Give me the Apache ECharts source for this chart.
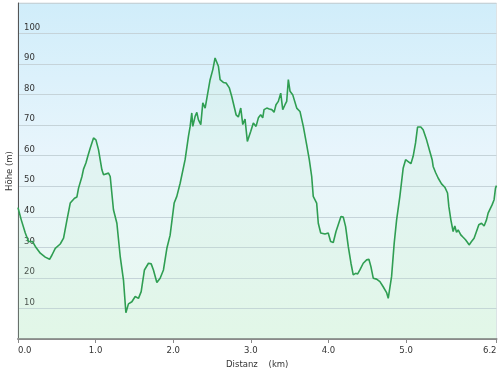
<!DOCTYPE html>
<html>
<head>
<meta charset="utf-8">
<script src="https://cdn.jsdelivr.net/npm/echarts@6/dist/echarts.min.js"></script>
<style>
html,body{margin:0;padding:0;background:#fff;}
#chart{width:500px;height:374px;}
</style>
</head>
<body>
<div id="chart"></div>
<script>
// Distance along route (km)
var distanceKm = [0.000,0.042,0.094,0.136,0.188,0.223,0.287,0.351,0.407,0.438,0.480,0.544,0.587,0.631,0.673,0.728,0.759,0.780,0.824,0.844,0.875,0.901,0.931,0.973,1.004,1.037,1.081,1.102,1.166,1.188,1.230,1.274,1.317,1.359,1.390,1.423,1.467,1.510,1.552,1.587,1.629,1.681,1.716,1.745,1.789,1.831,1.874,1.918,1.960,2.012,2.046,2.089,2.153,2.196,2.218,2.239,2.252,2.282,2.304,2.324,2.355,2.381,2.411,2.432,2.475,2.510,2.539,2.561,2.582,2.604,2.646,2.681,2.723,2.754,2.784,2.810,2.839,2.870,2.896,2.925,2.955,2.977,2.999,3.032,3.067,3.097,3.127,3.153,3.170,3.205,3.238,3.269,3.299,3.324,3.354,3.385,3.411,3.440,3.462,3.483,3.505,3.539,3.560,3.591,3.633,3.676,3.719,3.753,3.784,3.804,3.848,3.869,3.900,3.955,3.997,4.028,4.062,4.097,4.126,4.161,4.191,4.221,4.255,4.290,4.319,4.350,4.376,4.405,4.448,4.492,4.521,4.547,4.577,4.620,4.663,4.705,4.749,4.770,4.792,4.813,4.847,4.878,4.920,4.963,4.994,5.027,5.062,5.091,5.122,5.148,5.190,5.220,5.264,5.306,5.336,5.349,5.380,5.413,5.457,5.499,5.534,5.551,5.577,5.606,5.628,5.650,5.671,5.705,5.735,5.766,5.792,5.812,5.843,5.876,5.907,5.937,5.972,6.005,6.036,6.057,6.079,6.108,6.134,6.152,6.165];
// Elevation (m)
var elevationM = [43,39,34.7,31.9,31.9,30.3,28.1,26.8,26.1,27.5,29.7,31.1,33,39,44.5,46.1,46.5,49.4,53.2,55.6,57.6,60,62.5,65.8,65.2,62,55.4,53.8,54.3,53.2,42.3,37.9,27,19.3,8.6,11.5,12.2,13.9,13.3,15.5,22.6,24.8,24.6,22.6,18.5,19.9,22.6,29.7,34,44.5,46.7,51,58.7,66.3,69.6,74,69.6,72.9,74.2,71.8,70.2,77.3,75.6,76.2,84.9,88.2,92,92.6,89.3,84.9,84,83.8,82.2,79.4,76.2,73.4,72.7,75.6,70.2,72,64.7,64.2,68,70.7,69.6,72.4,73.4,72.4,75.1,75.6,75.3,75.1,74.2,76.7,77.8,80.5,75.1,76.7,77.8,84.9,81.1,80,79.4,75.6,74.5,69.6,63.6,58.7,53.2,46.7,44.5,37.9,34.7,34.4,34.7,31.9,31.6,35.2,37.4,40.1,39.9,36.8,30.3,24.8,21,21.5,21.3,22.6,24.8,25.9,26.1,23.7,19.9,19.6,18.8,17.1,15.2,13.3,13.3,20.4,31.4,39,46.7,56,58.7,58.1,57.4,59.8,64.2,69.4,69.4,68.5,65.2,61.4,58.7,56.5,54.5,52.7,50.8,49.7,47.8,43.4,39,35.2,37,34.9,35.7,34.1,33.3,32.5,31.6,30.8,31.9,33,35.2,37.4,37.9,37,39,41.2,40.7,43.9,45.6,49.4,50.2];
// Axis ticks
var xTickValues = [0,1,2,3,4,5,6.165];
var yTickValues = [10,20,30,40,50,60,70,80,90,100];
var xTitle = 'Distanz    (km)';
var yTitle = 'Höhe (m)';

var seriesData = distanceKm.map(function (d, i) { return [d, elevationM[i]]; });

var chart = echarts.init(document.getElementById('chart'), null, {renderer: 'canvas'});
var FONT = 'DejaVu Sans';
chart.setOption({
  animation: false,
  backgroundColor: '#ffffff',
  textStyle: {fontFamily: FONT},
  graphic: [{
    type: 'text',
    x: 10, y: 171,
    rotation: Math.PI / 2,
    style: {
      text: yTitle, fontFamily: FONT, fontSize: 8.5, fill: '#333',
      align: 'center', verticalAlign: 'middle'
    }
  }],
  grid: {
    left: 18, right: 3.5, top: 3, bottom: 35,
    outerBoundsMode: 'none',
    containLabel: false,
    show: true,
    borderWidth: 1,
    borderColor: '#dde3e6',
    backgroundColor: new echarts.graphic.LinearGradient(0, 0, 0, 1, [
      {offset: 0, color: '#d0edfa'},
      {offset: 0.45, color: '#e8f5fc'},
      {offset: 1, color: '#e9f9ee'}
    ])
  },
  xAxis: {
    type: 'value',
    min: 0,
    max: xTickValues[xTickValues.length - 1],
    name: xTitle,
    nameLocation: 'middle',
    nameGap: 20,
    nameTextStyle: {fontFamily: FONT, fontSize: 8.5, color: '#333'},
    axisLine: {show: true, onZero: false, lineStyle: {color: '#8a8a8a', width: 2}},
    axisTick: {show: true, length: 4, customValues: xTickValues, lineStyle: {color: '#8a8a8a'}},
    axisLabel: {
      customValues: xTickValues,
      fontFamily: FONT, fontSize: 8.5, color: '#333', margin: 7,
      alignMinLabel: 'left', alignMaxLabel: 'right',
      formatter: function (v) { return v.toFixed(1); }
    },
    splitLine: {show: false}
  },
  yAxis: {
    type: 'value',
    min: 0,
    max: 110,
    interval: 10,
    axisLine: {show: true, lineStyle: {color: '#555', width: 1}},
    axisTick: {show: false},
    axisLabel: {
      inside: true,
      customValues: yTickValues,
      fontFamily: FONT, fontSize: 8.5, color: '#333', margin: 6,
      verticalAlign: 'bottom', lineHeight: 12
    },
    splitLine: {show: true, lineStyle: {color: '#c5d3d9', width: 1}}
  },
  series: [{
    type: 'line',
    data: seriesData,
    showSymbol: false,
    smooth: false,
    lineStyle: {color: '#2f9e52', width: 1.6},
    areaStyle: {color: 'rgba(190,240,205,0.25)'},
    z: 3
  }]
});
</script>
</body>
</html>
